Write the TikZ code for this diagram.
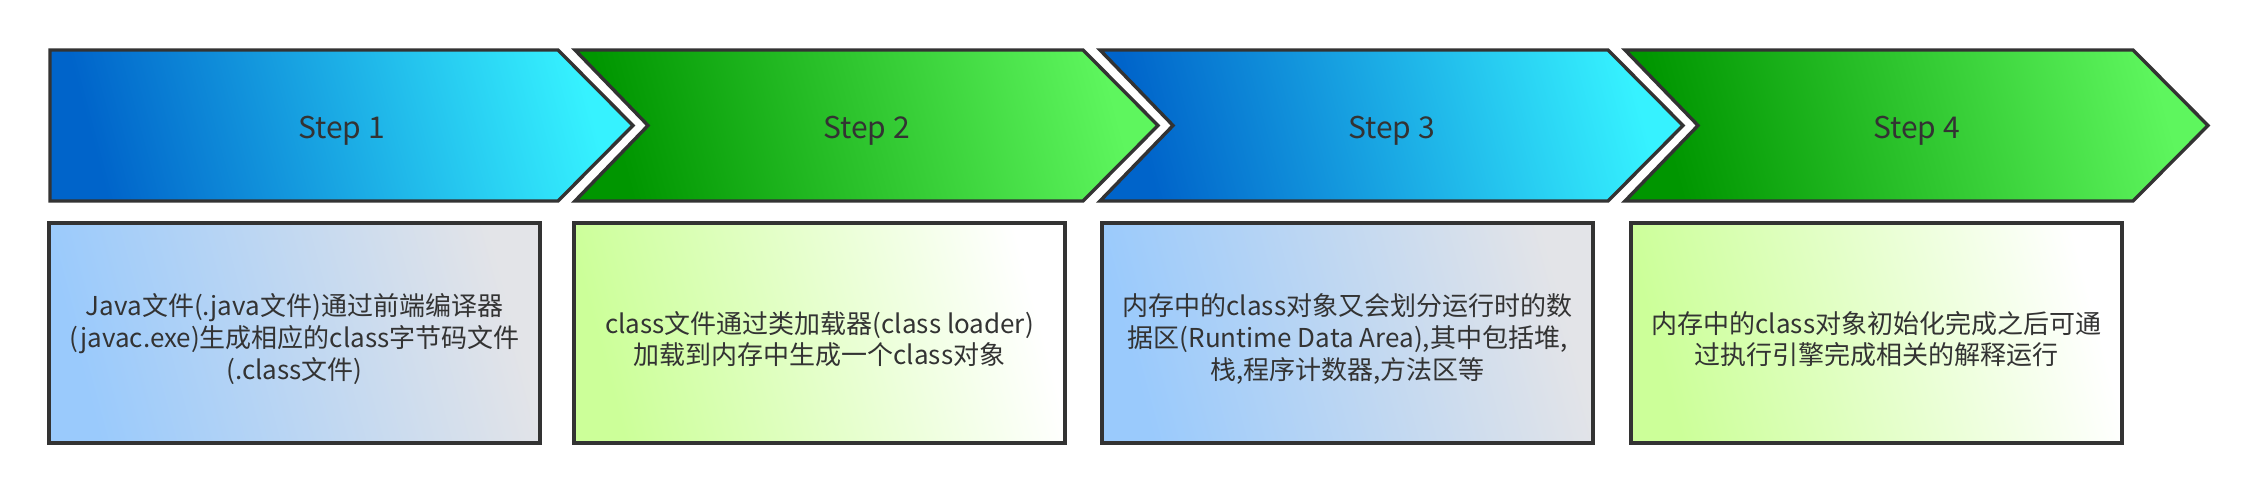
\documentclass[tikz,border=0pt]{standalone}
\usepackage{fontspec}
\setmainfont{Noto Sans CJK SC}
\definecolor{edge}{HTML}{333333}
\definecolor{blueA}{HTML}{0064CA}
\definecolor{blueB}{HTML}{36F2FF}
\definecolor{greenA}{HTML}{009600}
\definecolor{greenB}{HTML}{5EF65E}
\definecolor{paleblueA}{HTML}{9ACAFC}
\definecolor{paleblueB}{HTML}{E3E4E8}
\definecolor{palegreenA}{HTML}{CCFF99}
\definecolor{palegreenB}{HTML}{FFFFFF}
\begin{document}
\begin{tikzpicture}[x=0.5pt,y=-0.5pt,
    every node/.style={text=edge},
    steplabel/.style={font=\fontsize{15pt}{18pt}\selectfont},
    notebox/.style={draw=edge,line width=1.7pt,minimum width=245.5pt,
      minimum height=110pt,inner sep=0pt,shading angle=105},
    notetext/.style={align=center,inner sep=0pt,
      font=\fontsize{13pt}{15.8pt}\selectfont}]
  % Frame
  \useasboundingbox (0,0) rectangle (2258,493);
  % Arrows
  \shade[draw=edge,line width=1.7pt,left color=blueA,right color=blueB,shading angle=105]
    (50,50) -- (558,50) -- (633,125.5) -- (558,201) -- (50,201) -- cycle;
  \foreach \x/\ca/\cb in {575/greenA/greenB,1100/blueA/blueB,1625/greenA/greenB} {
    \shade[draw=edge,line width=1.7pt,left color=\ca,right color=\cb,shading angle=105]
      (\x,50) -- (\x+508,50) -- (\x+583,125.5) -- (\x+508,201) -- (\x,201)
      -- (\x+73,125.5) -- cycle;
  }
  % Labels
  \foreach \i/\x in {1/50,2/575,3/1100,4/1625}
    \node[steplabel] (step\i) at (\x+291.5,131) {Step \i};
  % Boxes
  \node[notebox,left color=paleblueA,right color=paleblueB,shading angle=105] (box1) at (294.5,333) {};
  \node[notebox,left color=palegreenA,right color=palegreenB,shading angle=105] (box2) at (819.5,333) {};
  \node[notebox,left color=paleblueA,right color=paleblueB,shading angle=105] (box3) at (1347.5,333) {};
  \node[notebox,left color=palegreenA,right color=palegreenB,shading angle=105] (box4) at (1876.5,333) {};
  % Texts
  \node[notetext] (text1) at ([yshift=-3pt]box1.center)
    {Java文件(.java文件)通过前端编译器\\(javac.exe)生成相应的class字节码文件\\(.class文件)};
  \node[notetext] (text2) at ([yshift=-3pt]box2.center)
    {class文件通过类加载器(class loader)\\加载到内存中生成一个class对象};
  \node[notetext] (text3) at ([yshift=-3pt]box3.center)
    {内存中的class对象又会划分运行时的数\\据区(Runtime Data Area),其中包括堆,\\栈,程序计数器,方法区等};
  \node[notetext] (text4) at ([yshift=-3pt]box4.center)
    {内存中的class对象初始化完成之后可通\\过执行引擎完成相关的解释运行};
\end{tikzpicture}
\end{document}
